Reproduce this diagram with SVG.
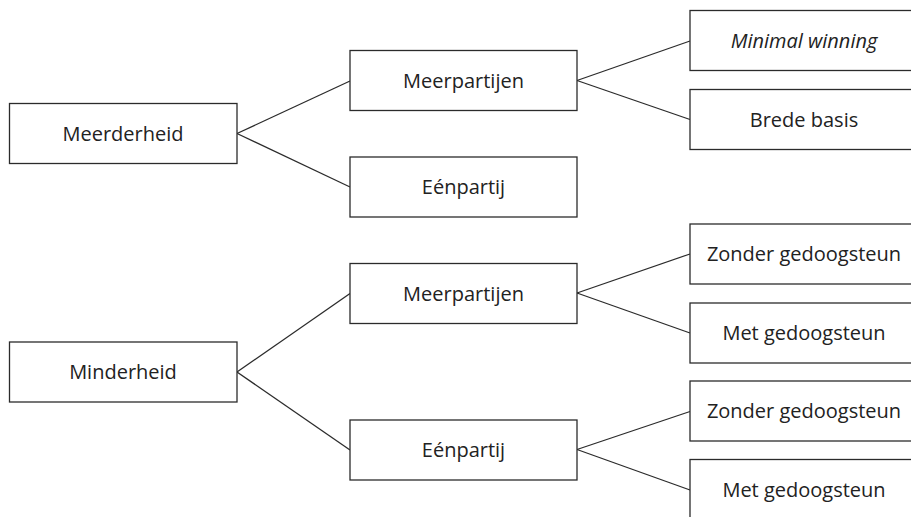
<svg xmlns="http://www.w3.org/2000/svg" width="911" height="517" viewBox="0 0 911 517">
<style>
.box{fill:#fff;stroke:#2b2b2b;stroke-width:1.3}
.lbl{font-family:"Open Sans","Noto Sans","DejaVu Sans",sans-serif;font-size:20px;fill:#222;text-anchor:middle}
.it{font-style:italic}
.con line{stroke:#2b2b2b;stroke-width:1.3}
</style>
<rect width="911" height="517" fill="#fff"/>
<g class="con" id="connectors">
<line x1="237" y1="133.5" x2="350" y2="81"/>
<line x1="237" y1="133.5" x2="350" y2="187"/>
<line x1="577" y1="80.5" x2="690" y2="41"/>
<line x1="577" y1="80.5" x2="690" y2="119.5"/>
<line x1="237" y1="372" x2="350" y2="293.5"/>
<line x1="237" y1="372" x2="350" y2="450"/>
<line x1="577" y1="293" x2="690" y2="254"/>
<line x1="577" y1="293" x2="690" y2="333"/>
<line x1="577" y1="449.5" x2="690" y2="411.5"/>
<line x1="577" y1="449.5" x2="690" y2="490"/>
</g>
<g id="meerderheid"><rect class="box" x="9.5" y="103.5" width="227.5" height="60"/><text class="lbl" x="123" y="140.5">Meerderheid</text></g>
<g id="meerpartijen1"><rect class="box" x="350" y="50.5" width="227" height="60"/><text class="lbl" x="463.5" y="87.5">Meerpartijen</text></g>
<g id="eenpartij1"><rect class="box" x="350" y="157" width="227" height="60"/><text class="lbl" x="463.5" y="194">Eénpartij</text></g>
<g id="minimalwinning"><rect class="box" x="690" y="10.5" width="228" height="60"/><text class="lbl it" x="804" y="47.5">Minimal winning</text></g>
<g id="bredebasis"><rect class="box" x="690" y="89.5" width="228" height="60"/><text class="lbl" x="804" y="126.5">Brede basis</text></g>
<g id="minderheid"><rect class="box" x="9.5" y="342" width="227.5" height="60"/><text class="lbl" x="123" y="379">Minderheid</text></g>
<g id="meerpartijen2"><rect class="box" x="350" y="263.5" width="227" height="60"/><text class="lbl" x="463.5" y="300.5">Meerpartijen</text></g>
<g id="eenpartij2"><rect class="box" x="350" y="420" width="227" height="60"/><text class="lbl" x="463.5" y="457">Eénpartij</text></g>
<g id="zonder1"><rect class="box" x="690" y="224" width="228" height="60"/><text class="lbl" x="804" y="261">Zonder gedoogsteun</text></g>
<g id="met1"><rect class="box" x="690" y="303" width="228" height="60"/><text class="lbl" x="804" y="340">Met gedoogsteun</text></g>
<g id="zonder2"><rect class="box" x="690" y="381" width="228" height="60"/><text class="lbl" x="804" y="418">Zonder gedoogsteun</text></g>
<g id="met2"><rect class="box" x="690" y="459.5" width="228" height="60"/><text class="lbl" x="804" y="496.5">Met gedoogsteun</text></g>
</svg>
